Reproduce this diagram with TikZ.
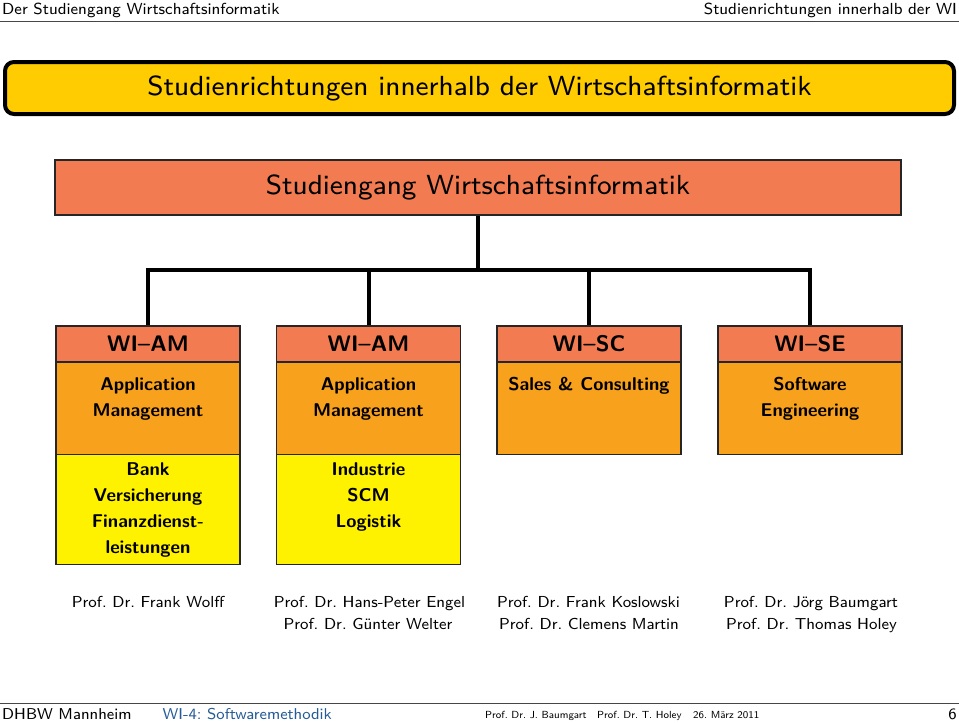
\documentclass[tikz,border=0pt]{standalone}
\usepackage{fontspec}
\setsansfont{lmsans8-regular}[Extension=.otf, BoldFont=lmsans10-bold]
\definecolor{titlegold}{RGB}{254,204,0}
\definecolor{salmon}{RGB}{243,123,82}
\definecolor{orangebody}{RGB}{247,161,29}
\definecolor{yellowbox}{RGB}{255,242,0}
\definecolor{footblue}{RGB}{38,92,150}
\definecolor{rulegray}{RGB}{70,70,70}
\frenchspacing
\begin{document}
\begin{tikzpicture}[x=1pt,y=-1pt, font=\sffamily,
  box/.style={draw=black!85, line width=1.5pt, minimum width=184pt, inner sep=0pt},
  hdr/.style={box, fill=salmon, minimum height=36pt, font=\sffamily\bfseries\fontsize{22.5pt}{27pt}\selectfont},
  body/.style={box, fill=orangebody, minimum height=92.5pt},
  ylw/.style={box, fill=yellowbox, minimum height=110pt},
  bodytxt/.style={font=\sffamily\bfseries\fontsize{18.5pt}{26pt}\selectfont, inner sep=0pt, align=center, anchor=north},
  conn/.style={line width=4pt, black},
  profname/.style={font=\sffamily\fontsize{15.9pt}{20pt}\selectfont, inner sep=0pt, anchor=base},
  headtxt/.style={font=\sffamily\fontsize{16pt}{18pt}\selectfont, inner sep=0pt},
  foottxt/.style={font=\sffamily\fontsize{15.7pt}{18pt}\selectfont, inner sep=0pt, anchor=base west},
  footsmall/.style={font=\sffamily\fontsize{10.3pt}{12pt}\selectfont, inner sep=0pt, anchor=base west},
  bigtxt/.style={font=\sffamily\fontsize{27.6pt}{31pt}\selectfont}
]
\useasboundingbox (0,0) rectangle (959,723);

% headline
\node[headtxt, anchor=base west] (hl) at (2,14) {Der Studiengang Wirtschaftsinformatik};
\node[headtxt, anchor=base east] (hr) at (957,14) {Studienrichtungen innerhalb der WI};
\coordinate (hrule-l) at (0,21.5);
\coordinate (hrule-r) at (959,21.5);
\draw[line width=1.2pt, rulegray] (hrule-l) -- (hrule-r);

% title bar
\node[draw=black, line width=4pt, rounded corners=9pt, fill=titlegold,
      minimum width=949pt, minimum height=52pt, bigtxt] (title) at (479.5,88)
      {Studienrichtungen innerhalb der Wirtschaftsinformatik};

% Studiengang
\node[draw=black!85, line width=1.5pt, fill=salmon, minimum width=846pt,
      minimum height=55pt, bigtxt] (stud) at (478,187.5)
      {Studiengang Wirtschaftsinformatik};

% column headers
\node[hdr] (h1) at (148,344) {WI--AM};
\node[hdr] (h2) at (368.5,344) {WI--AM};
\node[hdr] (h3) at (589,344) {WI--SC};
\node[hdr] (h4) at (810,344) {WI--SE};

% bodies
\node[body] (b1) at (148,408.25) {};
\node[body] (b2) at (368.5,408.25) {};
\node[body] (b3) at (589,408.25) {};
\node[body] (b4) at (810,408.25) {};
\node[bodytxt] (b1t) at ([yshift=-16pt]b1.north) {Application\\Management};
\node[bodytxt] (b2t) at ([yshift=-16pt]b2.north) {Application\\Management};
\node[bodytxt] (b3t) at ([yshift=-16pt]b3.north) {Sales \& Consulting};
\node[bodytxt] (b4t) at ([yshift=-16pt]b4.north) {Software\\Engineering};

% yellow
\node[ylw] (y1) at (148,509.5) {};
\node[ylw] (y2) at (368.5,509.5) {};
\node[bodytxt] (y1t) at ([yshift=-8.5pt]y1.north) {Bank\\Versicherung\\Finanzdienst-\\leistungen};
\node[bodytxt] (y2t) at ([yshift=-8.5pt]y2.north) {Industrie\\SCM\\Logistik};

% connectors
\coordinate (bus) at (478,270);
\draw[conn] (stud.south) -- (bus);
\draw[conn] (h1.north) |- (bus) -| (h4.north);
\draw[conn] (h2.north) -- (h2.north |- bus);
\draw[conn] (h3.north) -- (h3.north |- bus);

% professors
\node[profname] (p1a) at (148,607) {Prof. Dr. Frank Wolff};
\node[profname] (p2a) at (369.5,607) {Prof. Dr. Hans-Peter Engel};
\node[profname] (p2b) at (368,629.5) {Prof. Dr. Günter Welter};
\node[profname] (p3a) at (588.5,607) {Prof. Dr. Frank Koslowski};
\node[profname] (p3b) at (589,629.5) {Prof. Dr. Clemens Martin};
\node[profname] (p4a) at (811,607) {Prof. Dr. Jörg Baumgart};
\node[profname] (p4b) at (811.5,629.5) {Prof. Dr. Thomas Holey};

% footline
\coordinate (frule-l) at (0,703.5);
\coordinate (frule-r) at (959,703.5);
\draw[line width=1.2pt, rulegray] (frule-l) -- (frule-r);
\node[foottxt] (f1) at (2,719.3) {DHBW Mannheim};
\node[foottxt, text=footblue] (f2) at (162.5,719.3) {WI-4: Softwaremethodik};
\node[footsmall] (f3) at (485,718.7) {Prof. Dr. J. Baumgart};
\node[footsmall] (f4) at (597,718.7) {Prof. Dr. T. Holey};
\node[footsmall] (f5) at (693,718.7) {26. März 2011};
\node[foottxt, anchor=base east] (f6) at (957,719.3) {6};
\end{tikzpicture}
\end{document}
